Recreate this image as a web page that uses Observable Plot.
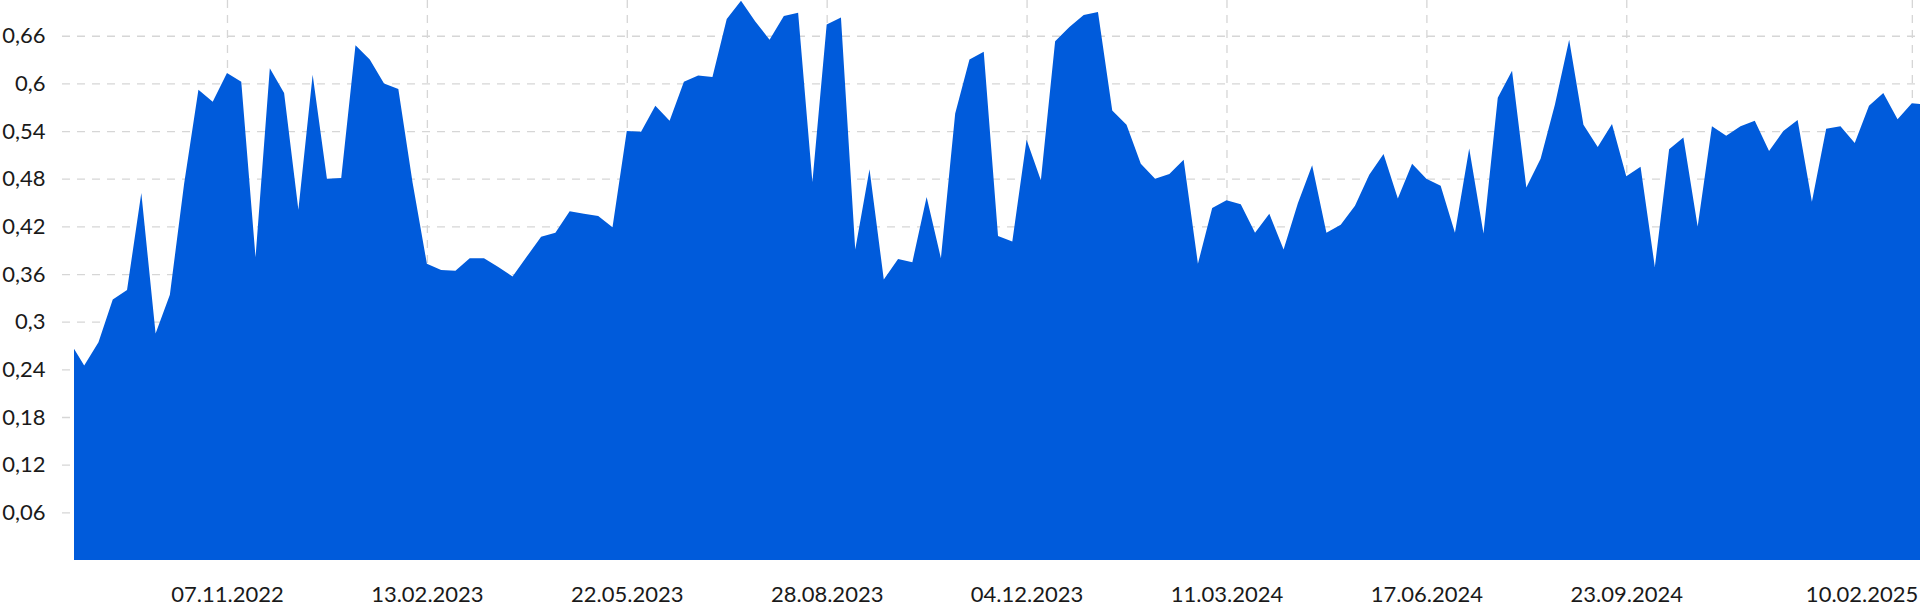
<!DOCTYPE html>
<html>
<head>
<meta charset="utf-8">
<script src="https://cdn.jsdelivr.net/npm/d3@7"></script>
<script src="https://cdn.jsdelivr.net/npm/@observablehq/plot@0.6"></script>
<style>
  html, body { margin: 0; padding: 0; background: #fff; }
  #chart svg { display: block; }
</style>
</head>
<body>
<div id="chart"></div>
<script>
// First observation, then weekly (Mondays), then final observation
const startDate = "2022-08-24";
const firstMonday = "2022-08-29";
const weeklyCount = 129;
const endDate = "2025-02-14";

const values = [
  0.266,
  0.245, 0.274, 0.328, 0.340, 0.462, 0.285, 0.334, 0.474, 0.592, 0.577,
  0.613, 0.602, 0.381, 0.619, 0.588, 0.441, 0.611, 0.480, 0.481, 0.648,
  0.630, 0.600, 0.593, 0.475, 0.373, 0.365, 0.364, 0.380, 0.380, 0.369,
  0.357, 0.382, 0.407, 0.412, 0.439, 0.436, 0.433, 0.419, 0.540, 0.539,
  0.572, 0.553, 0.602, 0.610, 0.608, 0.681, 0.704, 0.678, 0.655, 0.685,
  0.689, 0.476, 0.674, 0.683, 0.391, 0.492, 0.353, 0.379, 0.375, 0.457,
  0.380, 0.562, 0.630, 0.640, 0.408, 0.401, 0.529, 0.478, 0.653, 0.671,
  0.686, 0.690, 0.566, 0.548, 0.499, 0.480, 0.486, 0.504, 0.373, 0.443,
  0.453, 0.448, 0.412, 0.436, 0.391, 0.449, 0.497, 0.412, 0.422, 0.446,
  0.485, 0.511, 0.455, 0.499, 0.480, 0.471, 0.412, 0.518, 0.411, 0.582,
  0.616, 0.469, 0.505, 0.573, 0.655, 0.548, 0.520, 0.549, 0.483, 0.495,
  0.369, 0.517, 0.532, 0.420, 0.546, 0.534, 0.546, 0.553, 0.515, 0.540,
  0.554, 0.451, 0.543, 0.546, 0.525, 0.572, 0.588, 0.555, 0.575,
  0.574
];

const tickDates = ["2022-11-07","2023-02-13","2023-05-22","2023-08-28","2023-12-04","2024-03-11","2024-06-17","2024-09-23"];
const lastTickDate = "2025-02-10";
const yTicks = [0.06, 0.12, 0.18, 0.24, 0.3, 0.36, 0.42, 0.48, 0.54, 0.6, 0.66];

const parse = d3.utcParse("%Y-%m-%d");
const mondays = d3.range(weeklyCount).map(i => d3.utcWeek.offset(parse(firstMonday), i));
const dates = [parse(startDate), ...mondays, parse(endDate)];
const data = dates.map((d, i) => ({date: d, value: values[i]}));

const ticks = tickDates.map(parse);
const lastTick = parse(lastTickDate);
const allTicks = [...ticks, lastTick];
const fmtDate = d3.utcFormat("%d.%m.%Y");
const fmtNum = v => String(+v.toFixed(2)).replace(".", ",");

const fontFamily = "Lato, 'Open Sans', sans-serif";
const fs = 22;
const gridColor = "#d6d6d6";
const dash = "8,7";

const chart = Plot.plot({
  width: 1920,
  height: 614,
  marginLeft: 74,
  marginRight: 0,
  marginTop: 0,
  marginBottom: 54,
  style: {fontFamily, fontSize: fs + "px", color: "#1a1a1a", background: "#fff"},
  x: {type: "utc", domain: [parse(startDate), parse(endDate)]},
  y: {domain: [0, 0.705]},
  marks: [
    Plot.ruleY(yTicks, {y: d => d, stroke: gridColor, strokeWidth: 1.3, strokeDasharray: dash, insetLeft: -12}),
    Plot.ruleX(allTicks, {x: d => d, stroke: gridColor, strokeWidth: 1.3, strokeDasharray: dash}),
    Plot.areaY(data, {x: "date", y: "value", fill: "#005bdb", curve: "linear"}),
    Plot.axisY({ticks: yTicks, tickFormat: fmtNum, tickSize: 0, tickPadding: 29, fontSize: fs, fill: "#1a1a1a", label: null}),
    Plot.axisX({ticks: ticks, tickFormat: fmtDate, tickSize: 0, tickPadding: 26, fontSize: fs, fill: "#1a1a1a", label: null}),
    Plot.axisX({ticks: [lastTick], tickFormat: fmtDate, tickSize: 0, tickPadding: 26, fontSize: fs, fill: "#1a1a1a", textAnchor: "end", dx: 6, label: null})
  ]
});
document.getElementById("chart").appendChild(chart);
</script>
</body>
</html>
